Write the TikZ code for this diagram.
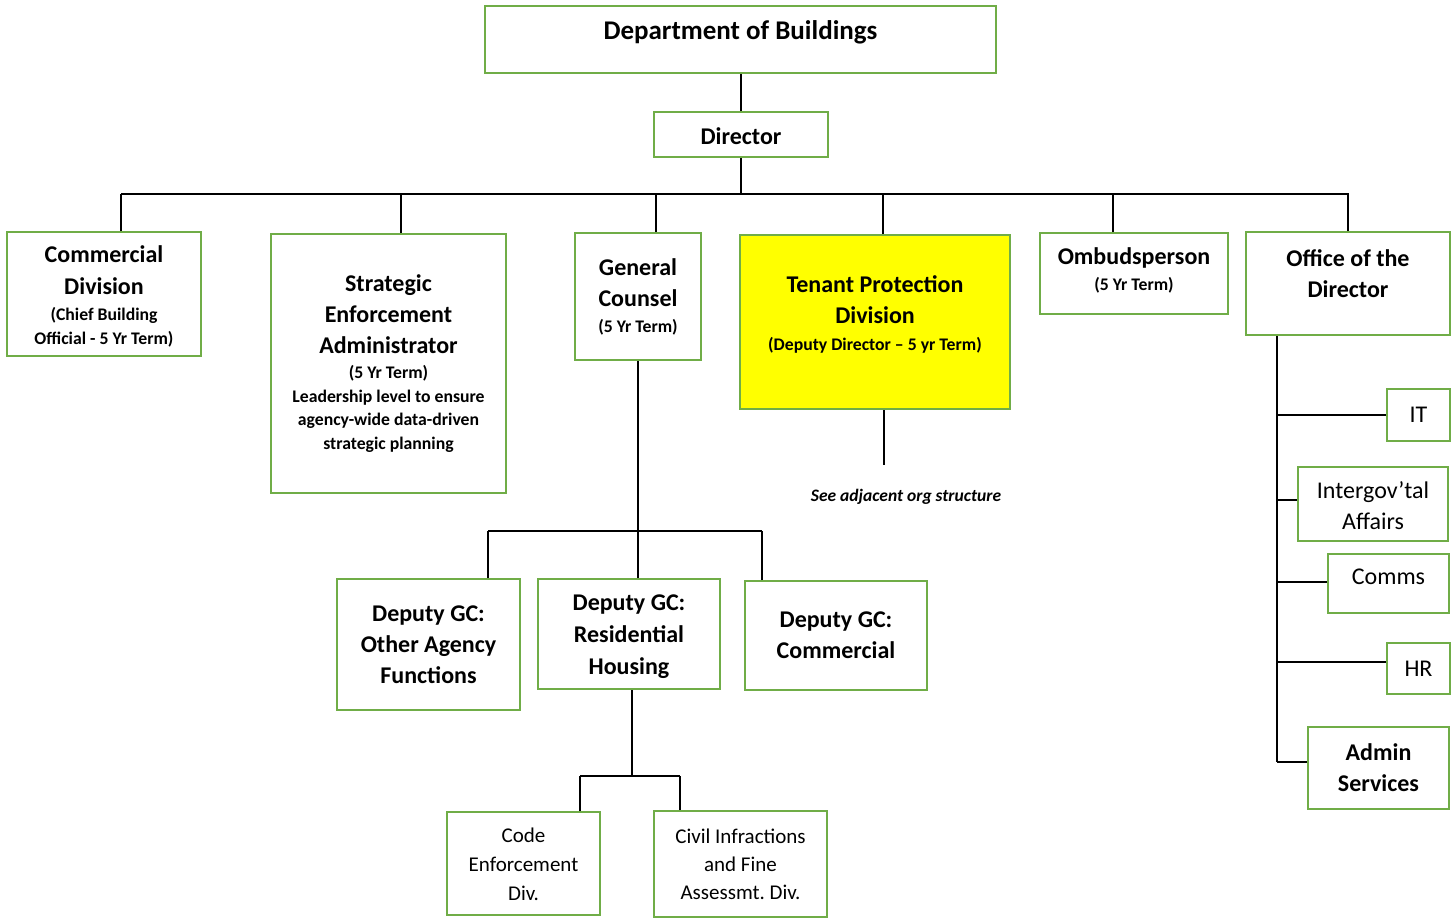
\documentclass[tikz,border=0pt]{standalone}
\usepackage{fontspec}
\setmainfont{Carlito}
\frenchspacing
\definecolor{boxgreen}{RGB}{112,173,71}
\definecolor{tpyellow}{RGB}{255,255,0}
\newcommand{\fBig}{\fontsize{24}{31}\selectfont\bfseries}
\newcommand{\fSm}{\fontsize{17.7}{23.5}\selectfont\bfseries}
\newcommand{\fReg}{\fontsize{24}{31}\selectfont}
\newcommand{\fDiv}{\fontsize{21}{28}\selectfont}
\newcommand{\taller}[2]{\raisebox{0pt}[\dimexpr\height+#1\relax]{#2}}
\begin{document}
\begin{tikzpicture}[x=1pt,y=-1pt,
  box/.style={draw=boxgreen, line width=2pt, fill=white, inner sep=0pt, align=flush center, text=black},
  conn/.style={line width=1.6pt, black},
  note/.style={font=\fontsize{17.5}{21}\selectfont\bfseries\itshape, inner sep=0pt}]
\path[use as bounding box] (0,0) rectangle (1455,918);

% fixed points of the connector bars
\coordinate (barL) at (121,194);
\coordinate (barR) at (1349,194);
\coordinate (gbL) at (488,531);
\coordinate (gbR) at (762,531);
\coordinate (rbL) at (580,776);
\coordinate (rbR) at (680,776);
\coordinate (tpdE) at (884,465);
\coordinate (otdE) at (1277,762);

% nodes
\node[box, minimum width=511pt, minimum height=67pt, text width=500pt, font=\fontsize{27}{33}\selectfont\bfseries] (dob) at (740.5,39.5) {Department of Buildings\par\vspace*{14pt}};
\node[box, minimum width=174pt, minimum height=45pt, text width=168pt, font=\fBig] (dir) at (741,134.5) {\taller{4pt}{Director}};

\node[box, minimum width=194pt, minimum height=124pt, text width=188pt] (cd) at (104,294) {{\fontsize{24}{32}\selectfont\bfseries \taller{4pt}{Commercial}\\Division\par}\vspace{3pt}{\fSm (Chief Building\\Official - 5 Yr Term)\par}};
\node[box, minimum width=235pt, minimum height=259pt, text width=229pt] (sea) at (388.5,363.5) {{\fBig Strategic\\Enforcement\\Administrator\par}\vspace{1.5pt}{\fSm (5 Yr Term)\\Leadership level to ensure\\agency-wide data-driven\\strategic planning\par}};
\node[box, minimum width=126pt, minimum height=127pt, text width=120pt] (gc) at (638,296.5) {{\fBig General\\Counsel\par}\vspace{2.5pt}{\fSm (5 Yr Term)\par}};
\node[box, fill=tpyellow, minimum width=270pt, minimum height=174pt, text width=264pt] (tpd) at (875,322) {{\fBig Tenant Protection\\Division\par}\vspace{3.5pt}{\fSm (Deputy Director – 5 yr Term)\par}\vspace*{15pt}};
\node[box, minimum width=188pt, minimum height=81pt, text width=182pt] (omb) at (1134,273.5) {{\fBig Ombudsperson\par}\vspace{2.5pt}{\fSm (5 Yr Term)\par}\vspace*{7pt}};
\node[box, minimum width=204pt, minimum height=103pt, text width=198pt] (otd) at (1348,283.5) {{\fBig Office of the\\Director\par}\vspace*{20pt}};

\node[box, minimum width=63pt, minimum height=52pt, text width=60pt, font=\fReg] (it) at (1418.5,415) {IT};
\node[box, minimum width=150pt, minimum height=74pt, text width=144pt, font=\fReg] (igt) at (1373,504) {\taller{3pt}{Intergov’tal}\\Affairs};
\node[box, minimum width=121pt, minimum height=59pt, text width=115pt, font=\fReg] (com) at (1388.5,583.5) {Comms\par\vspace*{13pt}};
\node[box, minimum width=63pt, minimum height=51pt, text width=60pt, font=\fReg] (hr) at (1418.5,668.5) {HR};
\node[box, minimum width=141pt, minimum height=82pt, text width=135pt, font=\fBig] (adm) at (1378.5,768) {Admin\\Services};

\node[box, minimum width=183pt, minimum height=131pt, text width=177pt, font=\fBig] (oaf) at (428.5,644.5) {Deputy GC:\\Other Agency\\Functions};
\node[box, minimum width=182pt, minimum height=110pt, text width=176pt, font=\fontsize{24}{32}\selectfont\bfseries] (rh) at (629,634) {\taller{6pt}{Deputy GC:}\\Residential\\Housing};
\node[box, minimum width=182pt, minimum height=109pt, text width=176pt, font=\fBig] (gcc) at (836,635.5) {Deputy GC:\\Commercial};
\node[box, minimum width=153pt, minimum height=103pt, text width=147pt, font=\fontsize{21}{29}\selectfont] (ced) at (523.5,863.5) {\taller{2pt}{Code}\\Enforcement\\Div.};
\node[box, minimum width=173pt, minimum height=106pt, text width=167pt, font=\fDiv] (cif) at (740.5,864) {Civil Infractions\\and Fine\\Assessmt. Div.};

\node[note] (see) at (906,497) {See adjacent org structure};

% top connectors
\draw[conn] (dir.north) -- (dir.north |- dob.south);
\draw[conn] (dir.south) -- (dir.south |- barL);
\draw[conn] (barL) -- (barR);
\coordinate (cdT) at ([xshift=17pt]cd.north);
\coordinate (seaT) at ([xshift=12.5pt]sea.north);
\coordinate (gcT) at ([xshift=18pt]gc.north);
\coordinate (tpdT) at ([xshift=8pt]tpd.north);
\coordinate (ombT) at ([xshift=-21pt]omb.north);
\draw[conn] (cdT) -- (cdT |- barL);
\draw[conn] (seaT) -- (seaT |- barL);
\draw[conn] (gcT) -- (gcT |- barL);
\draw[conn] (tpdT) -- (tpdT |- barL);
\draw[conn] (ombT) -- (ombT |- barL);
\draw[conn] (otd.north) -- (otd.north |- barR);

% tenant protection
\coordinate (tpdB) at ([xshift=9pt]tpd.south);
\draw[conn] (tpdB) -- (tpdB |- tpdE);

% general counsel
\draw[conn] (gc.south) -- (gc.south |- gbL);
\draw[conn] (gbL) -- (gbR);
\coordinate (oafT) at ([xshift=59.5pt]oaf.north);
\coordinate (rhT) at ([xshift=9pt]rh.north);
\coordinate (gccT) at ([xshift=-74pt]gcc.north);
\draw[conn] (oafT) -- (oafT |- gbL);
\draw[conn] (rhT) -- (rhT |- gbL);
\draw[conn] (gccT) -- (gccT |- gbL);

% residential housing
\coordinate (rhB) at ([xshift=3pt]rh.south);
\draw[conn] (rhB) -- (rhB |- rbL);
\draw[conn] (rbL) -- (rbR);
\coordinate (cedT) at ([xshift=56.5pt]ced.north);
\coordinate (cifT) at ([xshift=-60.5pt]cif.north);
\draw[conn] (cedT) -- (cedT |- rbL);
\draw[conn] (cifT) -- (cifT |- rbL);

% office of the director
\coordinate (otdB) at ([xshift=-71pt]otd.south);
\draw[conn] (otdB) -- (otdB |- otdE);
\coordinate (igtW) at ([yshift=4pt]igt.west);
\coordinate (comW) at ([yshift=1.5pt]com.west);
\coordinate (hrW) at ([yshift=6.5pt]hr.west);
\coordinate (admW) at ([yshift=6pt]adm.west);
\draw[conn] (it.west) -- (it.west -| otdB);
\draw[conn] (igtW) -- (igtW -| otdB);
\draw[conn] (comW) -- (comW -| otdB);
\draw[conn] (hrW) -- (hrW -| otdB);
\draw[conn] (admW) -- (admW -| otdB);
\end{tikzpicture}
\end{document}
